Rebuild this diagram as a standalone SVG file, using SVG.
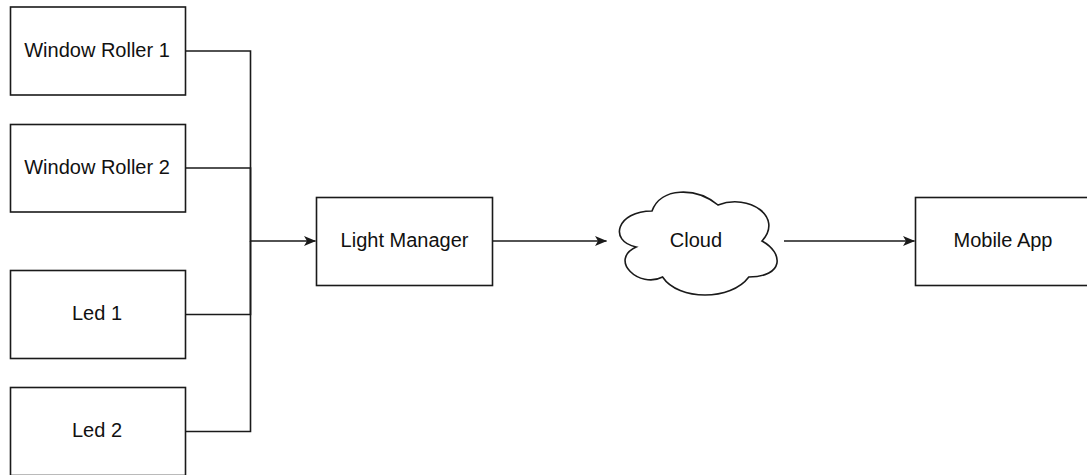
<svg xmlns="http://www.w3.org/2000/svg" width="1087" height="475" viewBox="0 0 1087 475">
<style>
.box{fill:#fff;stroke:#1a1a1a;stroke-width:1.6}
.lbl{font-family:"Liberation Sans",Arial,Helvetica,sans-serif;font-size:20px;fill:#111;text-anchor:middle}
.edge{fill:none;stroke:#1a1a1a;stroke-width:1.6}
</style>
<defs>
<marker id="arr" markerUnits="userSpaceOnUse" viewBox="0 0 12 10" markerWidth="12" markerHeight="10" refX="11.5" refY="5" orient="auto">
<path d="M0,0 L12,5 L0,10 L3,5 Z" fill="#1a1a1a"/>
</marker>
</defs>
<rect width="1087" height="475" fill="#fff"/>
<g id="connectors">
<path class="edge" d="M185.5,51 H250.5 V241 H315.5" marker-end="url(#arr)"/>
<path class="edge" d="M185.5,168 H250.5 V241"/>
<path class="edge" d="M185.5,314.5 H250.5 V241"/>
<path class="edge" d="M185.5,431.5 H250.5 V241"/>
<path class="edge" d="M492.5,241 H606.5" marker-end="url(#arr)"/>
<path class="edge" d="M784,241 H914.5" marker-end="url(#arr)"/>
</g>
<g id="wr1">
<rect class="box" x="10.5" y="7" width="175" height="88"/>
<text class="lbl" x="97" y="56.5">Window Roller 1</text>
</g>
<g id="wr2">
<rect class="box" x="10.5" y="124.5" width="175" height="87.5"/>
<text class="lbl" x="97" y="174">Window Roller 2</text>
</g>
<g id="led1">
<rect class="box" x="10.5" y="270.5" width="175" height="88"/>
<text class="lbl" x="97" y="320">Led 1</text>
</g>
<g id="led2">
<rect class="box" x="10.5" y="387.5" width="175" height="88"/>
<text class="lbl" x="97" y="437">Led 2</text>
</g>
<g id="lightmanager">
<rect class="box" x="316.5" y="197.5" width="176" height="88"/>
<text class="lbl" x="404.5" y="247">Light Manager</text>
</g>
<g id="cloud">
<path class="box" transform="translate(608,181)" d="M44,30 C8.8,30 0,60 28.16,66 C0,79.2 31.68,108 54.56,96 C70.4,120 123.2,120 140.8,96 C176,96 176,72 154,60 C176,36 140.8,12 110,24 C88,6 52.8,6 44,30 Z"/>
<text class="lbl" x="696" y="247">Cloud</text>
</g>
<g id="mobileapp">
<rect class="box" x="915.5" y="197.5" width="176" height="88"/>
<text class="lbl" x="1003" y="247">Mobile App</text>
</g>
</svg>
